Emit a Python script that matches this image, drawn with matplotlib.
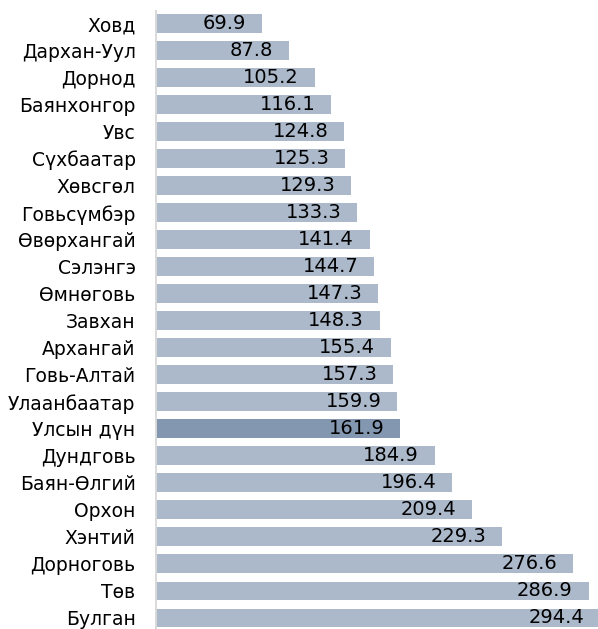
import matplotlib
matplotlib.use("Agg")
import matplotlib.pyplot as plt

# Aimags, sorted ascending by value (top to bottom)
regions = ["Ховд", "Дархан-Уул", "Дорнод", "Баянхонгор", "Увс", "Сүхбаатар",
           "Хөвсгөл", "Говьсүмбэр", "Өвөрхангай", "Сэлэнгэ", "Өмнөговь",
           "Завхан", "Архангай", "Говь-Алтай", "Улаанбаатар", "Улсын дүн",
           "Дундговь", "Баян-Өлгий", "Орхон", "Хэнтий", "Дорноговь", "Төв",
           "Булган"]
values = [69.9, 87.8, 105.2, 116.1, 124.8, 125.3, 129.3, 133.3, 141.4, 144.7,
          147.3, 148.3, 155.4, 157.3, 159.9, 161.9, 184.9, 196.4, 209.4, 229.3,
          276.6, 286.9, 294.4]
total_label = "Улсын дүн"

BAR = "#ACB9CA"
BAR_TOTAL = "#8497B0"

dpi = 100
fig = plt.figure(figsize=(5.98, 6.29), dpi=dpi)
ax = fig.add_axes([156.4 / 598, 0.0, (598 - 156.4) / 598, (629 - 11) / 629])

pos = list(range(len(regions)))
colors = [BAR_TOTAL if r == total_label else BAR for r in regions]
ax.barh(pos, values, height=0.70, color=colors, edgecolor="none")

for y, v in zip(pos, values):
    ax.annotate("{:.1f}".format(v), xy=(v, y), xytext=(-11.5, 0),
                textcoords="offset points", ha="right", va="center",
                fontsize=14, color="black", annotation_clip=False)

# rows are ~27 px apart, first centre ~12.5 px below the top of the axes
ax.set_xlim(0, 293.0)
ax.set_ylim(22 + 11 / 27.0, -12.5 / 27.0)
ax.set_yticks(pos)
ax.set_yticklabels(regions, fontsize=13.5)
ax.tick_params(axis="y", length=0, pad=15)
ax.set_xticks([])

for side in ["top", "right", "bottom"]:
    ax.spines[side].set_visible(False)
ax.spines["left"].set_color("#d9d9d9")
ax.spines["left"].set_linewidth(1.4)

fig.savefig("out.png", dpi=dpi)
